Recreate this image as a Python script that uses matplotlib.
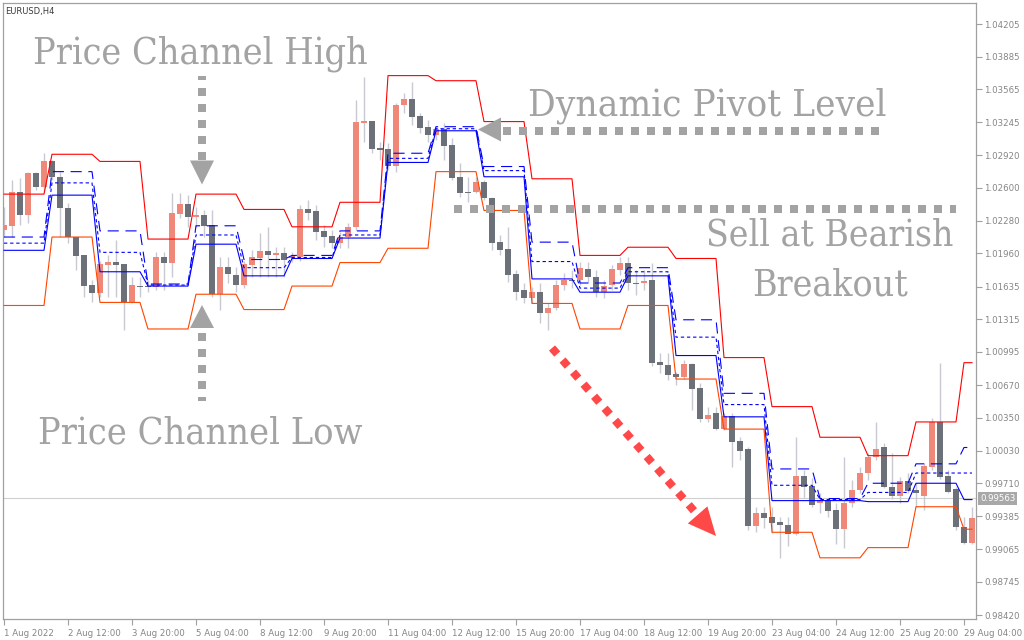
import matplotlib
matplotlib.use("Agg")
import matplotlib.pyplot as plt
import numpy as np
from matplotlib.patches import Polygon
from matplotlib import transforms

# ---------------- data (EURUSD H4) ----------------
opens = [1.0219,1.0223,1.0256,1.0234,1.0275,1.0261,1.0286,1.0271,1.0240,1.0212,
 1.0194,1.0165,1.0157,1.0185,1.0188,1.0186,1.0148,1.0164,1.0164,1.0163,
 1.0192,1.0187,1.0235,1.0244,1.0232,1.0234,1.0224,1.0156,1.0183,1.0175,
 1.0165,1.0185,1.0191,1.0198,1.0194,1.0196,1.0191,1.0192,1.0239,1.0237,
 1.0218,1.0213,1.0206,1.0212,1.0222,1.0324,1.0326,1.0299,1.0298,1.0282,
 1.0341,1.0347,1.0330,1.0320,1.0312,1.0318,1.0302,1.0271,1.0256,1.0256,
 1.0266,1.0250,1.0207,1.0200,1.0176,1.0160,1.0152,1.0158,1.0138,1.0143,
 1.0165,1.0170,1.0170,1.0181,1.0173,1.0158,1.0165,1.0180,1.0187,1.0167,
 1.0167,1.0170,1.0090,1.0087,1.0078,1.0075,1.0088,1.0064,1.0034,1.0040,
 1.0024,1.0037,1.0012,1.0005,0.9929,0.9942,0.9938,0.9933,0.9930,0.9921,
 0.9978,0.9968,0.9952,0.9955,0.9945,0.9926,0.9952,0.9964,0.9981,0.9997,
 1.0006,0.9967,0.9959,0.9973,0.9964,0.9959,0.9987,1.0031,0.9978,0.9965,
 0.9928,0.9913]
closes = [1.0224,1.0256,1.0234,1.0275,1.0261,1.0286,1.0271,1.0240,1.0212,1.0193,
 1.0164,1.0157,1.0186,1.0188,1.0185,1.0148,1.0165,1.0163,1.0163,1.0192,
 1.0187,1.0236,1.0244,1.0232,1.0234,1.0223,1.0156,1.0183,1.0176,1.0165,
 1.0186,1.0192,1.0198,1.0194,1.0196,1.0190,1.0193,1.0239,1.0236,1.0217,
 1.0212,1.0206,1.0212,1.0222,1.0325,1.0326,1.0298,1.0297,1.0282,1.0341,
 1.0347,1.0329,1.0319,1.0312,1.0318,1.0301,1.0270,1.0255,1.0255,1.0266,
 1.0250,1.0206,1.0199,1.0175,1.0158,1.0152,1.0158,1.0138,1.0143,1.0165,
 1.0170,1.0169,1.0182,1.0173,1.0158,1.0164,1.0181,1.0187,1.0167,1.0166,
 1.0169,1.0089,1.0087,1.0077,1.0075,1.0088,1.0063,1.0034,1.0038,1.0024,
 1.0037,1.0011,1.0003,0.9929,0.9942,0.9937,0.9932,0.9930,0.9921,0.9978,
 0.9967,0.9950,0.9955,0.9944,0.9926,0.9952,0.9964,0.9981,0.9997,1.0005,
 0.9967,0.9959,0.9973,0.9963,0.9961,0.9988,1.0031,0.9977,0.9962,0.9928,
 0.9913,0.9937]
highs = [1.0241,1.0268,1.0270,1.0276,1.0276,1.0294,1.0287,1.0276,1.0245,1.0212,
 1.0194,1.0170,1.0189,1.0194,1.0209,1.0186,1.0173,1.0173,1.0170,1.0197,
 1.0197,1.0255,1.0255,1.0253,1.0241,1.0238,1.0238,1.0192,1.0192,1.0183,
 1.0189,1.0199,1.0216,1.0222,1.0202,1.0202,1.0197,1.0243,1.0248,1.0243,
 1.0224,1.0219,1.0217,1.0226,1.0346,1.0369,1.0326,1.0305,1.0304,1.0343,
 1.0353,1.0364,1.0333,1.0327,1.0320,1.0324,1.0309,1.0284,1.0271,1.0271,
 1.0268,1.0251,1.0214,1.0222,1.0180,1.0167,1.0163,1.0167,1.0147,1.0170,
 1.0177,1.0180,1.0188,1.0188,1.0180,1.0170,1.0185,1.0192,1.0192,1.0180,
 1.0180,1.0187,1.0098,1.0098,1.0080,1.0092,1.0089,1.0069,1.0046,1.0046,
 1.0040,1.0040,1.0016,1.0006,0.9948,0.9948,0.9948,0.9938,0.9938,1.0016,
 0.9984,0.9976,0.9961,0.9957,0.9952,0.9997,0.9974,0.9987,1.0001,1.0031,
 1.0010,1.0001,0.9977,0.9981,0.9971,0.9991,1.0035,1.0089,0.9984,0.9967,
 0.9938,0.9948]
lows = [1.0212,1.0212,1.0224,1.0226,1.0258,1.0256,1.0268,1.0212,1.0206,1.0180,
 1.0153,1.0148,1.0153,1.0153,1.0153,1.0121,1.0147,1.0153,1.0158,1.0160,
 1.0160,1.0173,1.0231,1.0222,1.0222,1.0212,1.0153,1.0141,1.0167,1.0158,
 1.0162,1.0173,1.0173,1.0173,1.0173,1.0173,1.0188,1.0189,1.0229,1.0209,
 1.0202,1.0201,1.0201,1.0201,1.0219,1.0305,1.0294,1.0287,1.0278,1.0276,
 1.0333,1.0322,1.0314,1.0305,1.0307,1.0287,1.0268,1.0251,1.0246,1.0255,
 1.0248,1.0199,1.0194,1.0168,1.0150,1.0147,1.0147,1.0128,1.0121,1.0141,
 1.0160,1.0162,1.0165,1.0167,1.0153,1.0152,1.0160,1.0175,1.0160,1.0155,
 1.0160,1.0086,1.0079,1.0072,1.0067,1.0073,1.0043,1.0031,1.0031,1.0023,
 1.0023,0.9987,0.9994,0.9925,0.9923,0.9927,0.9922,0.9898,0.9910,0.9920,
 0.9957,0.9948,0.9942,0.9938,0.9912,0.9908,0.9948,0.9961,0.9974,0.9994,
 0.9966,0.9956,0.9952,0.9961,0.9948,0.9945,0.9984,0.9975,0.9961,0.9925,
 0.9912,0.9912]

# daily levels (6 H4 bars per day)
upper_day = [1.0254,1.0293,1.0286,1.0210,1.0254,1.0239,1.0222,1.0246,1.0370,1.0365,1.0325,
             1.0269,1.0194,1.0202,1.0191,1.0094,1.0046,1.0016,0.9998,1.0031,1.0089]
lower_day = [1.0145,1.0212,1.0148,1.0122,1.0156,1.0141,1.0164,1.0187,1.0201,1.0276,1.0238,
             1.0147,1.0122,1.0145,1.0073,1.0024,0.9923,0.9898,0.9908,0.9948,0.9926]
pivot_hi_day = [1.0212,1.0276,1.0218,1.0166,1.0223,1.0190,1.0194,1.0218,1.0294,1.0320,1.0281,
                1.0207,1.0167,1.0182,1.0131,1.0059,0.9985,0.9956,0.9971,0.9990,1.0006]
pivot_mid_day = [1.0206,1.0265,1.0197,1.0165,1.0214,1.0182,1.0192,1.0214,1.0289,1.0318,1.0277,
                 1.0188,1.0162,1.0178,1.0114,1.0048,0.9969,0.9955,0.9962,0.9981,0.9981]
pivot_lo_day = [1.0199,1.0253,1.0178,1.0164,1.0205,1.0174,1.0191,1.0211,1.0285,1.0316,1.0271,
                1.0171,1.0158,1.0174,1.0096,1.0036,0.9954,0.9954,0.9953,0.9971,0.9955]
bars_per_day = 6

bid_price = 0.99563
price_ticks = [1.04205,1.03885,1.03565,1.03245,1.02920,1.02600,1.02280,1.01960,1.01635,
               1.01315,1.00995,1.00670,1.00350,1.00030,0.99710,0.99385,0.99065,0.98745,0.98420]
time_labels = ["1 Aug 2022","2 Aug 12:00","3 Aug 20:00","5 Aug 04:00","8 Aug 12:00",
               "9 Aug 20:00","11 Aug 04:00","12 Aug 12:00","15 Aug 20:00","17 Aug 04:00",
               "18 Aug 12:00","19 Aug 20:00","23 Aug 04:00","24 Aug 12:00","25 Aug 20:00",
               "29 Aug 04:00"]
label_step = 8

# ---------------- figure ----------------
W, H = 1024, 640
fig = plt.figure(figsize=(W / 100, H / 100), dpi=100)
fig.patch.set_facecolor("white")
ax = fig.add_axes([3 / W, (H - 619) / H, (976 - 3) / W, (619 - 3) / H])
ax.set_facecolor("white")

o = np.array(opens); c = np.array(closes); h = np.array(highs); l = np.array(lows)
n = len(o)
x = np.arange(n)

bull = c >= o
body_bot = np.minimum(o, c)
body_h = np.maximum(np.abs(c - o), 0.00009)
ax.vlines(x, l, h, colors="#C8C9D2", lw=1.0, zorder=2)
ax.bar(x[bull], body_h[bull], bottom=body_bot[bull], width=0.85, color="#EF8878", lw=0, zorder=3)
ax.bar(x[~bull], body_h[~bull], bottom=body_bot[~bull], width=0.85, color="#6C7078", lw=0, zorder=3)

def per_bar(day_vals):
    return np.repeat(np.array(day_vals), bars_per_day)[:n]

ax.plot(x, per_bar(upper_day), color="#FF0000", lw=0.8, zorder=4)
ax.plot(x, per_bar(lower_day), color="#FF4500", lw=0.8, zorder=4)
ax.plot(x, per_bar(pivot_hi_day), color="#0000FF", lw=0.8, dashes=(10, 6), zorder=4)
ax.plot(x, per_bar(pivot_mid_day), color="#0000FF", lw=0.8, dashes=(3, 2.5), zorder=4)
ax.plot(x, per_bar(pivot_lo_day), color="#0000FF", lw=0.8, zorder=4)

ax.axhline(bid_price, color="#CFCFCF", lw=0.8, zorder=1)

def p_of_px(ypx):
    return 1.04440 - 0.00009788 * ypx

ax.set_xlim(-0.125, 121.5)
ax.set_ylim(p_of_px(619), p_of_px(3))

for s in ax.spines.values():
    s.set_color("#A0A0A0")
    s.set_linewidth(0.9)

ax.yaxis.tick_right()
ax.set_yticks(price_ticks)
ax.set_yticklabels([f"{v:.5f}" for v in price_ticks])
ax.set_xticks(np.arange(len(time_labels)) * label_step)
ax.set_xticklabels(time_labels, ha="left")
ax.tick_params(axis="both", direction="out", length=4, width=0.8, color="#A0A0A0",
               labelsize=6.2, labelcolor="#858585", pad=2)
ax.tick_params(axis="x", pad=3)

# current price label
trans = transforms.blended_transform_factory(ax.transAxes, ax.transData)
ax.text(1.004, bid_price, f"{bid_price:.5f}", transform=trans, ha="left", va="center",
        fontsize=6.2, color="white", clip_on=False, zorder=6,
        bbox=dict(boxstyle="square,pad=0.25", fc="#A8A8A8", ec="none"))

ax.text(0.002, 0.993, "EURUSD,H4", transform=ax.transAxes, ha="left", va="top",
        fontsize=6, color="#3A3A3A")

# ---------------- annotation overlay (pixel coords) ----------------
ov = fig.add_axes([0, 0, 1, 1])
ov.set_xlim(0, W)
ov.set_ylim(H, 0)
ov.axis("off")

GRAY = "#A3A3A3"
REDA = "#FF4848"

def dotted(x0, y0, x1, y1, color, size=8, offset=0.0):
    ov.plot([x0, x1], [y0, y1], color=color, lw=size * 0.72,
            linestyle=(offset, (1, 1)), dash_capstyle="butt", solid_capstyle="butt")

def tri(pts, color):
    ov.add_patch(Polygon(pts, closed=True, fc=color, ec="none"))

# Price Channel High arrow (down)
dotted(202, 76, 202, 160, GRAY, offset=0.5)
tri([(190, 160.5), (214, 160.5), (202, 184.5)], GRAY)
# Price Channel Low arrow (up)
tri([(190, 328), (214, 328), (202, 305)], GRAY)
dotted(202, 333, 202, 401, GRAY)
# Dynamic pivot arrow (left)
tri([(501, 117.5), (501, 141.5), (478, 129.5)], GRAY)
dotted(503, 130.5, 886, 130.5, GRAY)
# bearish breakout level
dotted(454, 208.5, 956, 208.5, GRAY)
# red diagonal arrow
ax_dir = np.array([716 - 552, 536 - 348], float)
u = ax_dir / np.hypot(*ax_dir)
perp = np.array([-u[1], u[0]])
apex = np.array([716.0, 536.0])
base = apex - 28 * u
dotted(552, 348, *(base - 3 * u), REDA, size=8)
tri([tuple(apex), tuple(base + 13 * perp), tuple(base - 13 * perp)], REDA)

renderer = fig.canvas.get_renderer()

def fit_text(x0, ybase, s, width_px):
    t = ov.text(x0, ybase, s, fontsize=20, color=GRAY, ha="left", va="baseline",
                family="DejaVu Serif", fontstretch="condensed")
    bb = t.get_window_extent(renderer)
    t.set_fontsize(20 * width_px / bb.width)
    return t

fit_text(33, 63.5, "Price Channel High", 335)
fit_text(528, 115, "Dynamic Pivot Level", 358)
fit_text(706, 246, "Sell at Bearish", 247)
fit_text(752, 296, "Breakout", 156)
fit_text(38, 443, "Price Channel Low", 324)

fig.savefig("out.png", dpi=100, facecolor="white")
